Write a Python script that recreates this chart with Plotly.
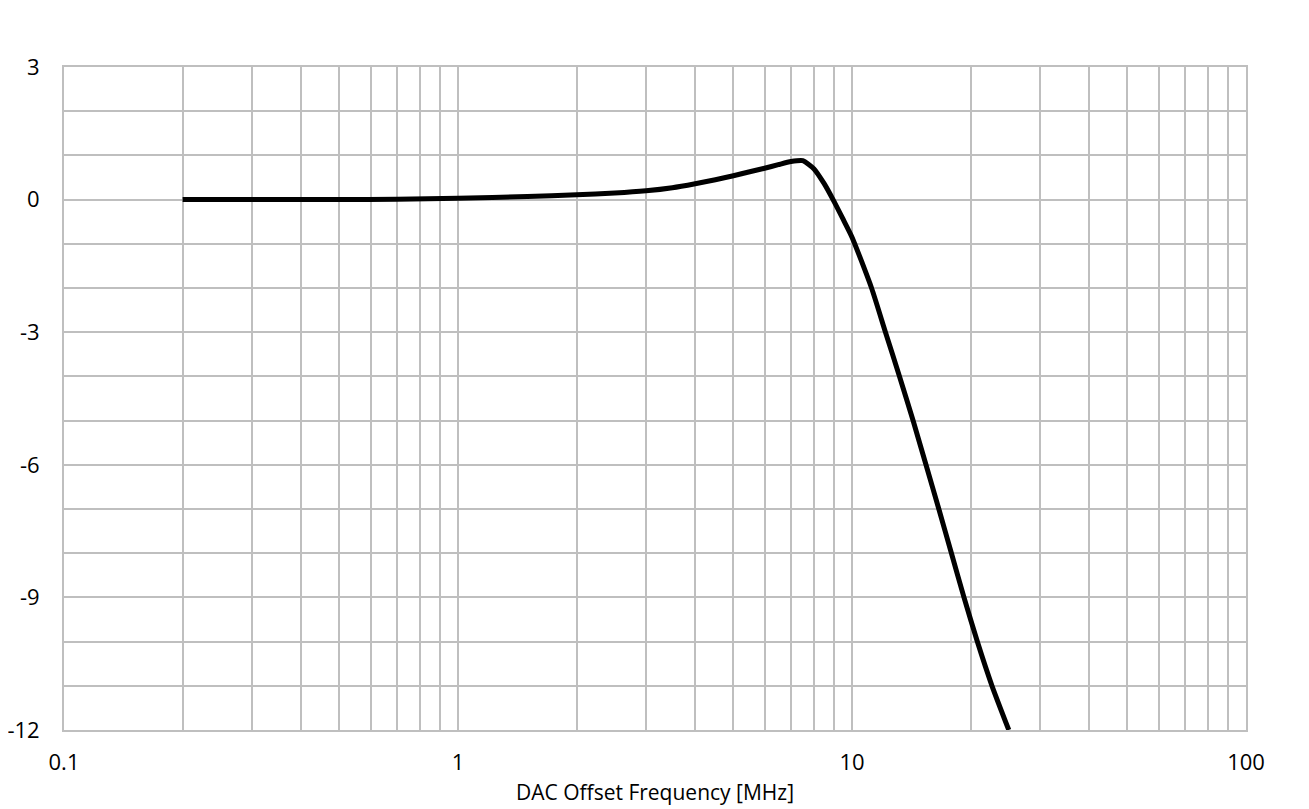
import plotly.graph_objects as go

# Data
freq_mhz = [0.2, 0.3, 0.5, 0.7, 1.0, 1.5, 2.0, 2.5, 3.0, 3.5, 4.0, 4.5, 5.0, 5.5,
            6.0, 6.5, 7.0, 7.5, 8.0, 8.5, 9.0, 9.5, 10.0, 11.21, 12.16,
            13.2, 14.29, 15.41, 16.61, 17.88, 19.24, 20.8, 22.66, 25.0]
gain_db = [0.0, 0.0, 0.0, 0.01, 0.03, 0.07, 0.11, 0.15, 0.2, 0.27, 0.36, 0.45, 0.54, 0.63,
           0.71, 0.79, 0.86, 0.88, 0.7, 0.36, -0.04, -0.45, -0.85, -2.0, -3.0,
           -4.0, -5.0, -6.0, -7.0, -8.0, -9.0, -10.0, -11.0, -12.0]

x_tickvals = [0.1, 0.2, 0.3, 0.4, 0.5, 0.6, 0.7, 0.8, 0.9,
              1, 2, 3, 4, 5, 6, 7, 8, 9,
              10, 20, 30, 40, 50, 60, 70, 80, 90, 100]
x_ticktext = ["0.1"] + [""] * 8 + ["1"] + [""] * 8 + ["10"] + [""] * 8 + ["100"]

y_tickvals = list(range(-12, 4))
y_ticktext = [str(v) if v % 3 == 0 else "" for v in y_tickvals]

x_title = "DAC Offset Frequency [MHz]"

grid_color = "#bfbfbf"
font_family = "Open Sans"

fig = go.Figure()
fig.add_trace(go.Scatter(
    x=freq_mhz, y=gain_db, mode="lines",
    line=dict(color="black", width=5, shape="spline", smoothing=0.6),
    showlegend=False, hoverinfo="skip",
))

# page body adds an 8 px offset; figure sized so the plot area lands where the reference has it
fig.update_layout(
    width=1301, height=801,
    paper_bgcolor="white", plot_bgcolor="white",
    margin=dict(l=56, r=63, t=59, b=79, autoexpand=False),
    font=dict(family=font_family, size=22, color="black"),
    xaxis=dict(
        type="log", range=[-1, 2], automargin=False,
        tickmode="array", tickvals=x_tickvals, ticktext=x_ticktext,
        showgrid=True, gridcolor=grid_color, gridwidth=1.8,
        showline=True, linecolor=grid_color, linewidth=1.8, mirror=True,
        ticks="", ticklabelstandoff=12, zeroline=False,
    ),
    yaxis=dict(
        range=[-12, 3], automargin=False,
        tickmode="array", tickvals=y_tickvals, ticktext=y_ticktext,
        showgrid=True, gridcolor=grid_color, gridwidth=1.8,
        showline=True, linecolor=grid_color, linewidth=1.8, mirror=True,
        ticks="", ticklabelstandoff=18, zeroline=False,
    ),
    annotations=[dict(
        text=x_title, xref="paper", yref="paper", x=0.5, y=0,
        yshift=-62, yanchor="middle", xanchor="center", showarrow=False,
        font=dict(family=font_family, size=21, color="black"),
    )],
)

fig.write_html("out.html")
